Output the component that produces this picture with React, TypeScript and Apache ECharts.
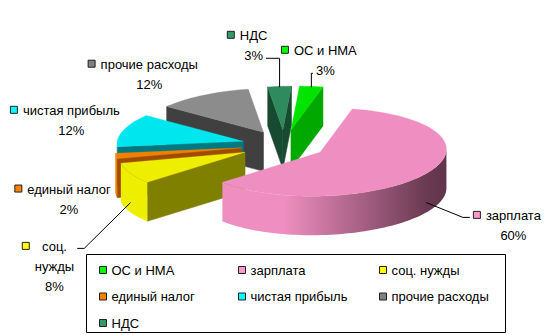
import React, { useEffect, useRef } from "react";
import * as echarts from "echarts";

// ---- data ----
const categories = ["ОС и НМА", "зарплата", "соц. нужды", "единый налог", "чистая прибыль", "прочие расходы", "НДС"];
const values = [3, 60, 8, 2, 12, 12, 3];

const legendColumns = [
  ["ОС и НМА", "единый налог", "НДС"],
  ["зарплата", "чистая прибыль"],
  ["соц. нужды", "прочие расходы"],
];

// ---- styles / layout ----
const topColors = ["#00e400", "#ef8fc1", "#eeee00", "#f28000", "#00e6ef", "#8c8c8c", "#2f8a5e"];
const keyColors = ["#00ff00", "#ff99cc", "#ffff00", "#ff8000", "#00ffff", "#808080", "#339966"];
const sideColors = ["#00a800", "#6a3a52", "#7f7f00", "#a04c00", "#007a80", "#404040", "#184a32"];
const labelOffset = [[14, -36], [87, 42], [-76, 73], [-47, 33], [-52, -20], [-54, -31], [-26, -51]];
const withLeader = [true, true, true, false, false, false, true];
const wrapName = [false, false, true, false, false, false, false];
const legendLeft = [99, 238, 379];

const FONT_FAMILY = '"Liberation Sans", Arial, sans-serif';
const FONT = '13px ' + FONT_FAMILY;
const G = { cx: 284, cy: 145, a: 126, b: -8.6, d: 44, depth: 39, explode: 0.34 };

function hex(c: string) {
  const h = c.replace("#", "");
  return [parseInt(h.slice(0, 2), 16), parseInt(h.slice(2, 4), 16), parseInt(h.slice(4, 6), 16)];
}
function mix(c1: string, c2: string, t: number) {
  const a = hex(c1), b = hex(c2);
  const r = a.map((v, k) => Math.round(v + (b[k] - v) * t));
  return "#" + r.map((v) => v.toString(16).padStart(2, "0")).join("");
}
function proj(wx: number, wy: number, z: number) {
  return [G.cx + G.a * wx + G.b * wy, G.cy + G.d * wy + G.depth * z];
}

export default function App() {
  const ref = useRef<HTMLDivElement>(null);
  useEffect(() => {
    const chart = echarts.init(ref.current!, null, { renderer: "svg" });
    const total = values.reduce((s, v) => s + v, 0);
    const TAU = Math.PI * 2;
    let acc = 0;
    const slices = values.map((v) => {
      const s = -Math.PI / 2 + (acc / total) * TAU;
      acc += v;
      const e = -Math.PI / 2 + (acc / total) * TAU;
      return { s, e, m: (s + e) / 2 };
    });
    const pctText = values.map((v) => Math.round((v / total) * 100) + "%");

    const canvas = document.createElement("canvas");
    const mctx = canvas.getContext("2d")!;
    mctx.font = FONT;
    const tw = (t: string) => mctx.measureText(t).width;

    const th0 = Math.atan2(G.b, G.a);
    const ratio = G.b / G.a;

    const renderItem = (params: any) => {
      const i = params.dataIndex;
      const { s, e, m } = slices[i];
      const ox = G.explode * Math.cos(m), oy = G.explode * Math.sin(m);
      const P = (th: number, r: number, z: number) => proj(ox + r * Math.cos(th), oy + r * Math.sin(th), z);
      const arc = (a0: number, a1: number, z: number) => {
        const n = Math.max(2, Math.ceil((a1 - a0) / (Math.PI / 90)));
        const pts: number[][] = [];
        for (let k = 0; k <= n; k++) pts.push(P(a0 + ((a1 - a0) * k) / n, 1, z));
        return pts;
      };
      const children: any[] = [];
      // radial walls
      const walls: number[] = [];
      if (-ratio * Math.sin(s) - Math.cos(s) > 1e-6) walls.push(s);
      if (ratio * Math.sin(e) + Math.cos(e) > 1e-6) walls.push(e);
      walls.forEach((phi) => {
        children.push({
          type: "polygon",
          z2: 3000 + Math.round((oy + 0.5 * Math.sin(phi)) * 1000),
          shape: { points: [P(phi, 0, 0), P(phi, 1, 0), P(phi, 1, 1), P(phi, 0, 1)] },
          style: { fill: sideColors[i], stroke: sideColors[i], lineWidth: 0.5 },
        });
      });
      // outer wall
      const lo = Math.max(s, th0), hi = Math.min(e, th0 + Math.PI);
      if (hi > lo) {
        const top = arc(lo, hi, 0);
        const bot = arc(lo, hi, 1).reverse();
        let sum = 0;
        const n = 10;
        for (let k = 0; k <= n; k++) sum += Math.sin(lo + ((hi - lo) * k) / n);
        const key = oy + sum / (n + 1);
        const grad = new echarts.graphic.LinearGradient(
          140, 0, 458, 0,
          [
            { offset: 0, color: topColors[i] },
            { offset: 0.45, color: topColors[i] },
            { offset: 0.72, color: mix(topColors[i], sideColors[i], 0.6) },
            { offset: 0.9, color: sideColors[i] },
            { offset: 1, color: mix(sideColors[i], "#000000", 0.15) },
          ],
          true
        );
        children.push({
          type: "polygon",
          z2: 3000 + Math.round(key * 1000),
          shape: { points: top.concat(bot) },
          style: { fill: grad },
        });
      }
      // top face
      children.push({
        type: "polygon",
        z2: 6000,
        shape: { points: [P(m, 0, 0)].concat(arc(s, e, 0)) },
        style: { fill: topColors[i], stroke: topColors[i], lineWidth: 0.3 },
      });

      // label
      const rim = P(m, 1, 0);
      const nx = rim[0] + labelOffset[i][0];
      const ny = rim[1] + labelOffset[i][1];
      const lines = wrapName[i] ? categories[i].split(" ") : [categories[i]];
      const LH = 20;
      const widths = lines.map(tw);
      const blockW = Math.max(...widths);
      const textLeft = nx - blockW / 2;
      const markerLeft = textLeft - 13;
      const pctY = ny + lines.length * LH;
      children.push({
        type: "rect",
        z2: 8000,
        shape: { x: markerLeft + 0.5, y: ny - 4.5 + 0.5, width: 7, height: 7 },
        style: { fill: keyColors[i], stroke: "#222", lineWidth: 1 },
      });
      lines.forEach((ln, k) => {
        children.push({
          type: "text",
          z2: 8000,
          style: {
            text: ln, x: nx, y: ny + k * LH, fill: "#000", font: FONT,
            align: "center", verticalAlign: "middle", textAlign: "center", textVerticalAlign: "middle",
          },
        });
      });
      children.push({
        type: "text",
        z2: 8000,
        style: {
          text: pctText[i], x: nx, y: pctY, fill: "#000", font: FONT,
          align: "center", verticalAlign: "middle", textAlign: "center", textVerticalAlign: "middle",
        },
      });
      if (withLeader[i]) {
        const wallVisible = -ratio * Math.cos(m) + Math.sin(m) > 0.2;
        const end = [rim[0], rim[1] + (wallVisible ? G.depth * 0.75 : 1)];
        const above = pctY < rim[1] - 5;
        const pw = tw(pctText[i]);
        const span = above ? [nx - pw / 2, nx + pw / 2] : [markerLeft, textLeft + blockW];
        const ys = above ? pctY + 3 : ny + 2;
        let sx: number, dir: number;
        if (end[0] < span[0]) { sx = span[0] - 3; dir = -1; }
        else { sx = span[1] + 3; dir = 1; }
        const elbow = Math.abs(end[0] - sx) < 14 ? [end[0], ys] : [sx + dir * 7, ys];
        children.push({
          type: "polyline",
          z2: 8000,
          shape: { points: [[sx, ys], elbow, end] },
          style: { stroke: "#000", lineWidth: 1, fill: null },
        });
      }
      return { type: "group", children };
    };

    const option: any = {
      animation: false,
      backgroundColor: "#ffffff",
      legend: legendColumns.map((col, k) => ({
        type: "plain",
        data: col,
        orient: "vertical",
        left: legendLeft[k],
        top: 263,
        height: 72,
        padding: 0,
        itemWidth: 7,
        itemHeight: 7,
        itemGap: 12.5,
        icon: "rect",
        selectedMode: false,
        textStyle: { fontFamily: FONT_FAMILY, fontSize: 13, color: "#000", lineHeight: 14 },
        itemStyle: { borderColor: "#222", borderWidth: 1 },
      })),
      graphic: [
        {
          type: "rect",
          shape: { x: 86.5, y: 254.5, width: 419, height: 78 },
          style: { fill: "none", stroke: "#000", lineWidth: 1 },
          z: 0,
        },
      ],
      series: [
        {
          type: "pie",
          center: [-300, -300],
          radius: 5,
          silent: true,
          label: { show: false },
          labelLine: { show: false },
          data: categories.map((n, i) => ({ name: n, value: values[i], itemStyle: { color: keyColors[i] } })),
        },
        {
          type: "custom",
          coordinateSystem: "none",
          clip: false,
          silent: true,
          renderItem,
          data: categories.map((n, i) => ({ name: n, value: values[i] })),
        },
      ],
    };
    chart.setOption(option);
    return () => chart.dispose();
  }, []);
  return (
    <div
      ref={ref}
      style={{ position: "fixed", left: 0, top: 0, width: 548, height: 335, background: "#fff" }}
    />
  );
}
